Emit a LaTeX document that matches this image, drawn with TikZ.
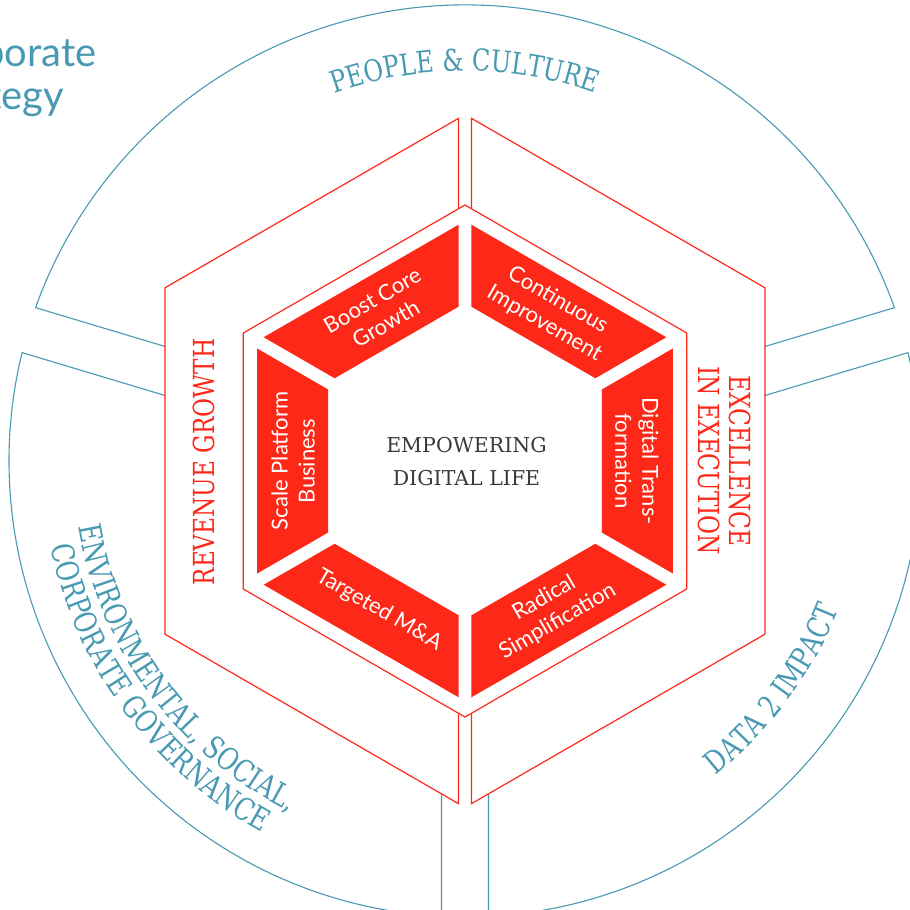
\documentclass[tikz,border=0pt]{standalone}
\usepackage{fontspec}
\setmainfont{Lato}
\newfontfamily\slabfont{DejaVu Serif}[FakeStretch=0.8]
\newfontfamily\centrefont{DejaVu Serif}
\usetikzlibrary{calc,decorations.text}
\definecolor{tealblue}{RGB}{72,153,178}
\definecolor{hexred}{RGB}{253,40,24}
\definecolor{darktext}{RGB}{58,58,58}

\begin{document}
\begin{tikzpicture}[x=1pt,y=1pt,
    sector/.style={draw=tealblue,line width=1.1pt},
    hexline/.style={draw=hexred,line width=1.2pt},
    piecelabel/.style={text=white,align=center,font=\fontsize{22}{27}\selectfont},
    redlabel/.style={text=hexred,align=center,font=\slabfont\fontsize{29}{31}\selectfont}]
  \path[use as bounding box] (-465,-449) rectangle (445,461);
  \clip (-465,-449) rectangle (445,461);
  % outer ring: three sectors
  \draw[sector] (299.6,114.4) -- (19.65:456) arc[start angle=19.65,end angle=160.35,radius=456] -- (-299.6,114.4);
  \draw[sector] (-299.6,65.4) -- (166.25:456) arc[start angle=166.25,end angle=267.05,radius=456] -- (-23.5,-332.8);
  \draw[sector] (23.5,-332.8) -- (-87.05:456) arc[start angle=-87.05,end angle=13.75,radius=456] -- (299.6,65.4);
  % hexagon frames
  \draw[hexline] (90:256) -- (150:256) -- (210:256) -- (270:256) -- (330:256) -- (30:256) -- cycle;
  \draw[hexline] (-6.5,252.25) -- (-6.5,342.65) -- (150:346.4) -- (210:346.4) -- (-6.5,-342.65) -- (-6.5,-252.25);
  \draw[hexline] (6.5,252.25) -- (6.5,342.65) -- (30:346.4) -- (-30:346.4) -- (6.5,-342.65) -- (6.5,-252.25);
  % red pieces
  \foreach \a [evaluate=\a as \b using \a+60] in {-90,-30,...,210}
    \fill[hexred] ($(\a:240)!7.5pt!(\b:240)$) -- ($(\b:240)!7.5pt!(\a:240)$) -- ($(\b:158)!7.5pt!(\a:158)$) -- ($(\a:158)!7.5pt!(\b:158)$) -- cycle;
  \node[piecelabel,rotate=30] (boost) at (120:172) {Boost Core\\Growth};
  \node[piecelabel,rotate=-30] (improve) at (60:172) {Continuous\\Improvement};
  \node[piecelabel,rotate=-90] (digital) at (0:172) {Digital Trans-\\formation};
  \node[piecelabel,rotate=30] (simplify) at (-60:172) {Radical\\Simplification};
  \node[piecelabel,rotate=-30] (mna) at (-120:172) {Targeted M\&A};
  \node[piecelabel,rotate=90] (platform) at (180:172) {Scale Platform\\Business};
  \node[text=darktext,align=center,font=\centrefont\fontsize{20.5}{33}\selectfont] (core) at (1.5,-1) {EMPOWERING\\DIGITAL LIFE};
  \node[redlabel,rotate=90] (growth) at (-261,-1) {REVENUE GROWTH};
  \node[redlabel,rotate=-90] (excel) at (260,0) {EXCELLENCE\\IN EXECUTION};
  % curved sector titles
  \path[decorate,decoration={text along path,text align=center,text color=tealblue,
      text={|\slabfont\fontsize{30}{30}\selectfont|PEOPLE {\&} CULTURE}}]
    (135:390) arc[start angle=135,end angle=45,radius=390];
  \path[decorate,decoration={text along path,text align=center,text color=tealblue,
      text={|\slabfont\fontsize{31}{31}\selectfont|ENVIRONMENTAL, SOCIAL,}}]
    (171.5:392) arc[start angle=171.5,end angle=261.5,radius=392];
  \path[decorate,decoration={text along path,text align=center,text color=tealblue,
      text={|\slabfont\fontsize{31}{31}\selectfont|CORPORATE GOVERNANCE}}]
    (171.5:423) arc[start angle=171.5,end angle=261.5,radius=423];
  \path[decorate,decoration={text along path,text align=center,text color=tealblue,
      text={|\slabfont\fontsize{31}{31}\selectfont|DATA 2 IMPACT}}]
    (-81.5:402) arc[start angle=-81.5,end angle=8.5,radius=402];
  \node[anchor=base west,text=tealblue,font=\fontsize{40}{45}\selectfont] (corp) at (-550,394) {Corporate};
  \node[anchor=base west,text=tealblue,font=\fontsize{40}{45}\selectfont] (strat) at (-550,351) {Strategy};
\end{tikzpicture}
\end{document}
